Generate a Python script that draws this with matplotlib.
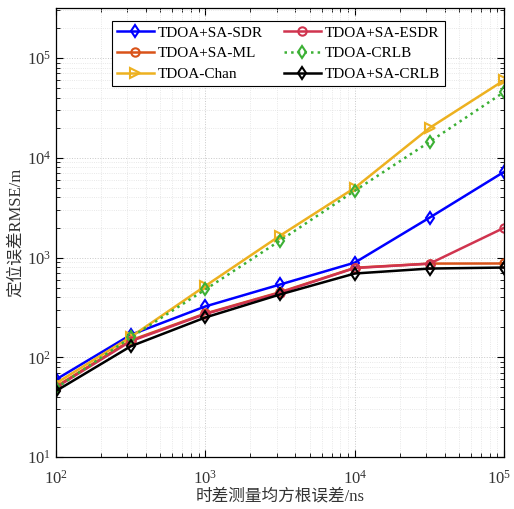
import numpy as np
import matplotlib
matplotlib.use('Agg')
import matplotlib.pyplot as plt
import matplotlib.transforms as mtransforms

plt.rcParams['font.family'] = ['Liberation Serif', 'Noto Sans CJK SC']
plt.rcParams['mathtext.fontset'] = 'custom'
plt.rcParams['mathtext.rm'] = 'Liberation Serif'

# time-difference RMS error (ns)
sigma = [1e2, 10**2.5, 1e3, 10**3.5, 1e4, 10**4.5, 1e5]

# positioning RMSE (m)
sdr = [60, 168, 324, 537, 890, 2510, 7250]
ml = [51, 148, 275, 450, 790, 870, 872]
chan = [55, 160, 520, 1660, 5000, 19900, 60000]
esdr = [50, 145, 272, 445, 785, 868, 1990]
crlb = [49, 158, 479, 1480, 4680, 14450, 45700]
sa_crlb = [46, 129, 251, 427, 692, 776, 794]

labels = ['TDOA+SA-SDR', 'TDOA+SA-ML', 'TDOA-Chan',
          'TDOA+SA-ESDR', 'TDOA-CRLB', 'TDOA+SA-CRLB']

fig = plt.figure(figsize=(5.14, 5.09), dpi=100)
ax = fig.add_axes([0.109, 0.102, 0.872, 0.882])

lw = 1.8
ax.plot(sigma, sdr, '-d', color='#0000ff', lw=lw, ms=6, mfc='none', mew=1.5, label=labels[0])
ax.plot(sigma, ml, '-o', color='#d95319', lw=lw, ms=6, mfc='none', mew=1.5, label=labels[1])
ax.plot(sigma, chan, '->', color='#edb120', lw=lw, ms=7, mfc='none', mew=1.5, label=labels[2])
ax.plot(sigma, esdr, '-o', color='#d0344f', lw=lw, ms=6, mfc='none', mew=1.5, label=labels[3])
ax.plot(sigma, crlb, ':d', color='#3cb035', lw=lw, ms=6, mfc='none', mew=1.5, label=labels[4])
ax.plot(sigma, sa_crlb, '-d', color='black', lw=lw, ms=6, mfc='none', mew=1.5, label=labels[5])

ax.set_xscale('log')
ax.set_yscale('log')
ax.set_xlim(1e2, 1e5)
ax.set_ylim(1e1, 10**5.5)

ax.grid(True, which='major', ls=':', color='#c8c8c8', lw=0.7)
ax.grid(True, which='minor', ls=':', color='#e0e0e0', lw=0.6)
ax.tick_params(which='both', direction='in', top=True, right=True, labelsize=12,
               labelcolor='#333333')
ax.tick_params(which='major', length=5)
ax.tick_params(which='minor', length=3)
ax.tick_params(axis='x', which='major', pad=9)
for s in ax.spines.values():
    s.set_linewidth(0.9)

ax.set_xlabel('时差测量均方根误差/ns', fontsize=12, color='#333333', labelpad=1)
ax.set_ylabel('定位误差RMSE/m', fontsize=12, color='#333333', labelpad=2)

leg = ax.legend(ncol=2, loc='upper center', bbox_to_anchor=(0.496, 0.989),
                fontsize=11, handlelength=2.4, columnspacing=1.4,
                borderpad=0.35, labelspacing=0.45, handletextpad=0.25,
                fancybox=False, edgecolor='black', framealpha=1)
leg.get_frame().set_linewidth(0.8)

# keep the 10^5 label inside the figure
fig.canvas.draw()
last = [t for t in ax.get_xticklabels() if t.get_position()[0] == 1e5]
shift = mtransforms.ScaledTranslation(-5 / 100, 0, fig.dpi_scale_trans)
for t in last:
    t.set_transform(t.get_transform() + shift)

fig.savefig('out.png', dpi=100)
